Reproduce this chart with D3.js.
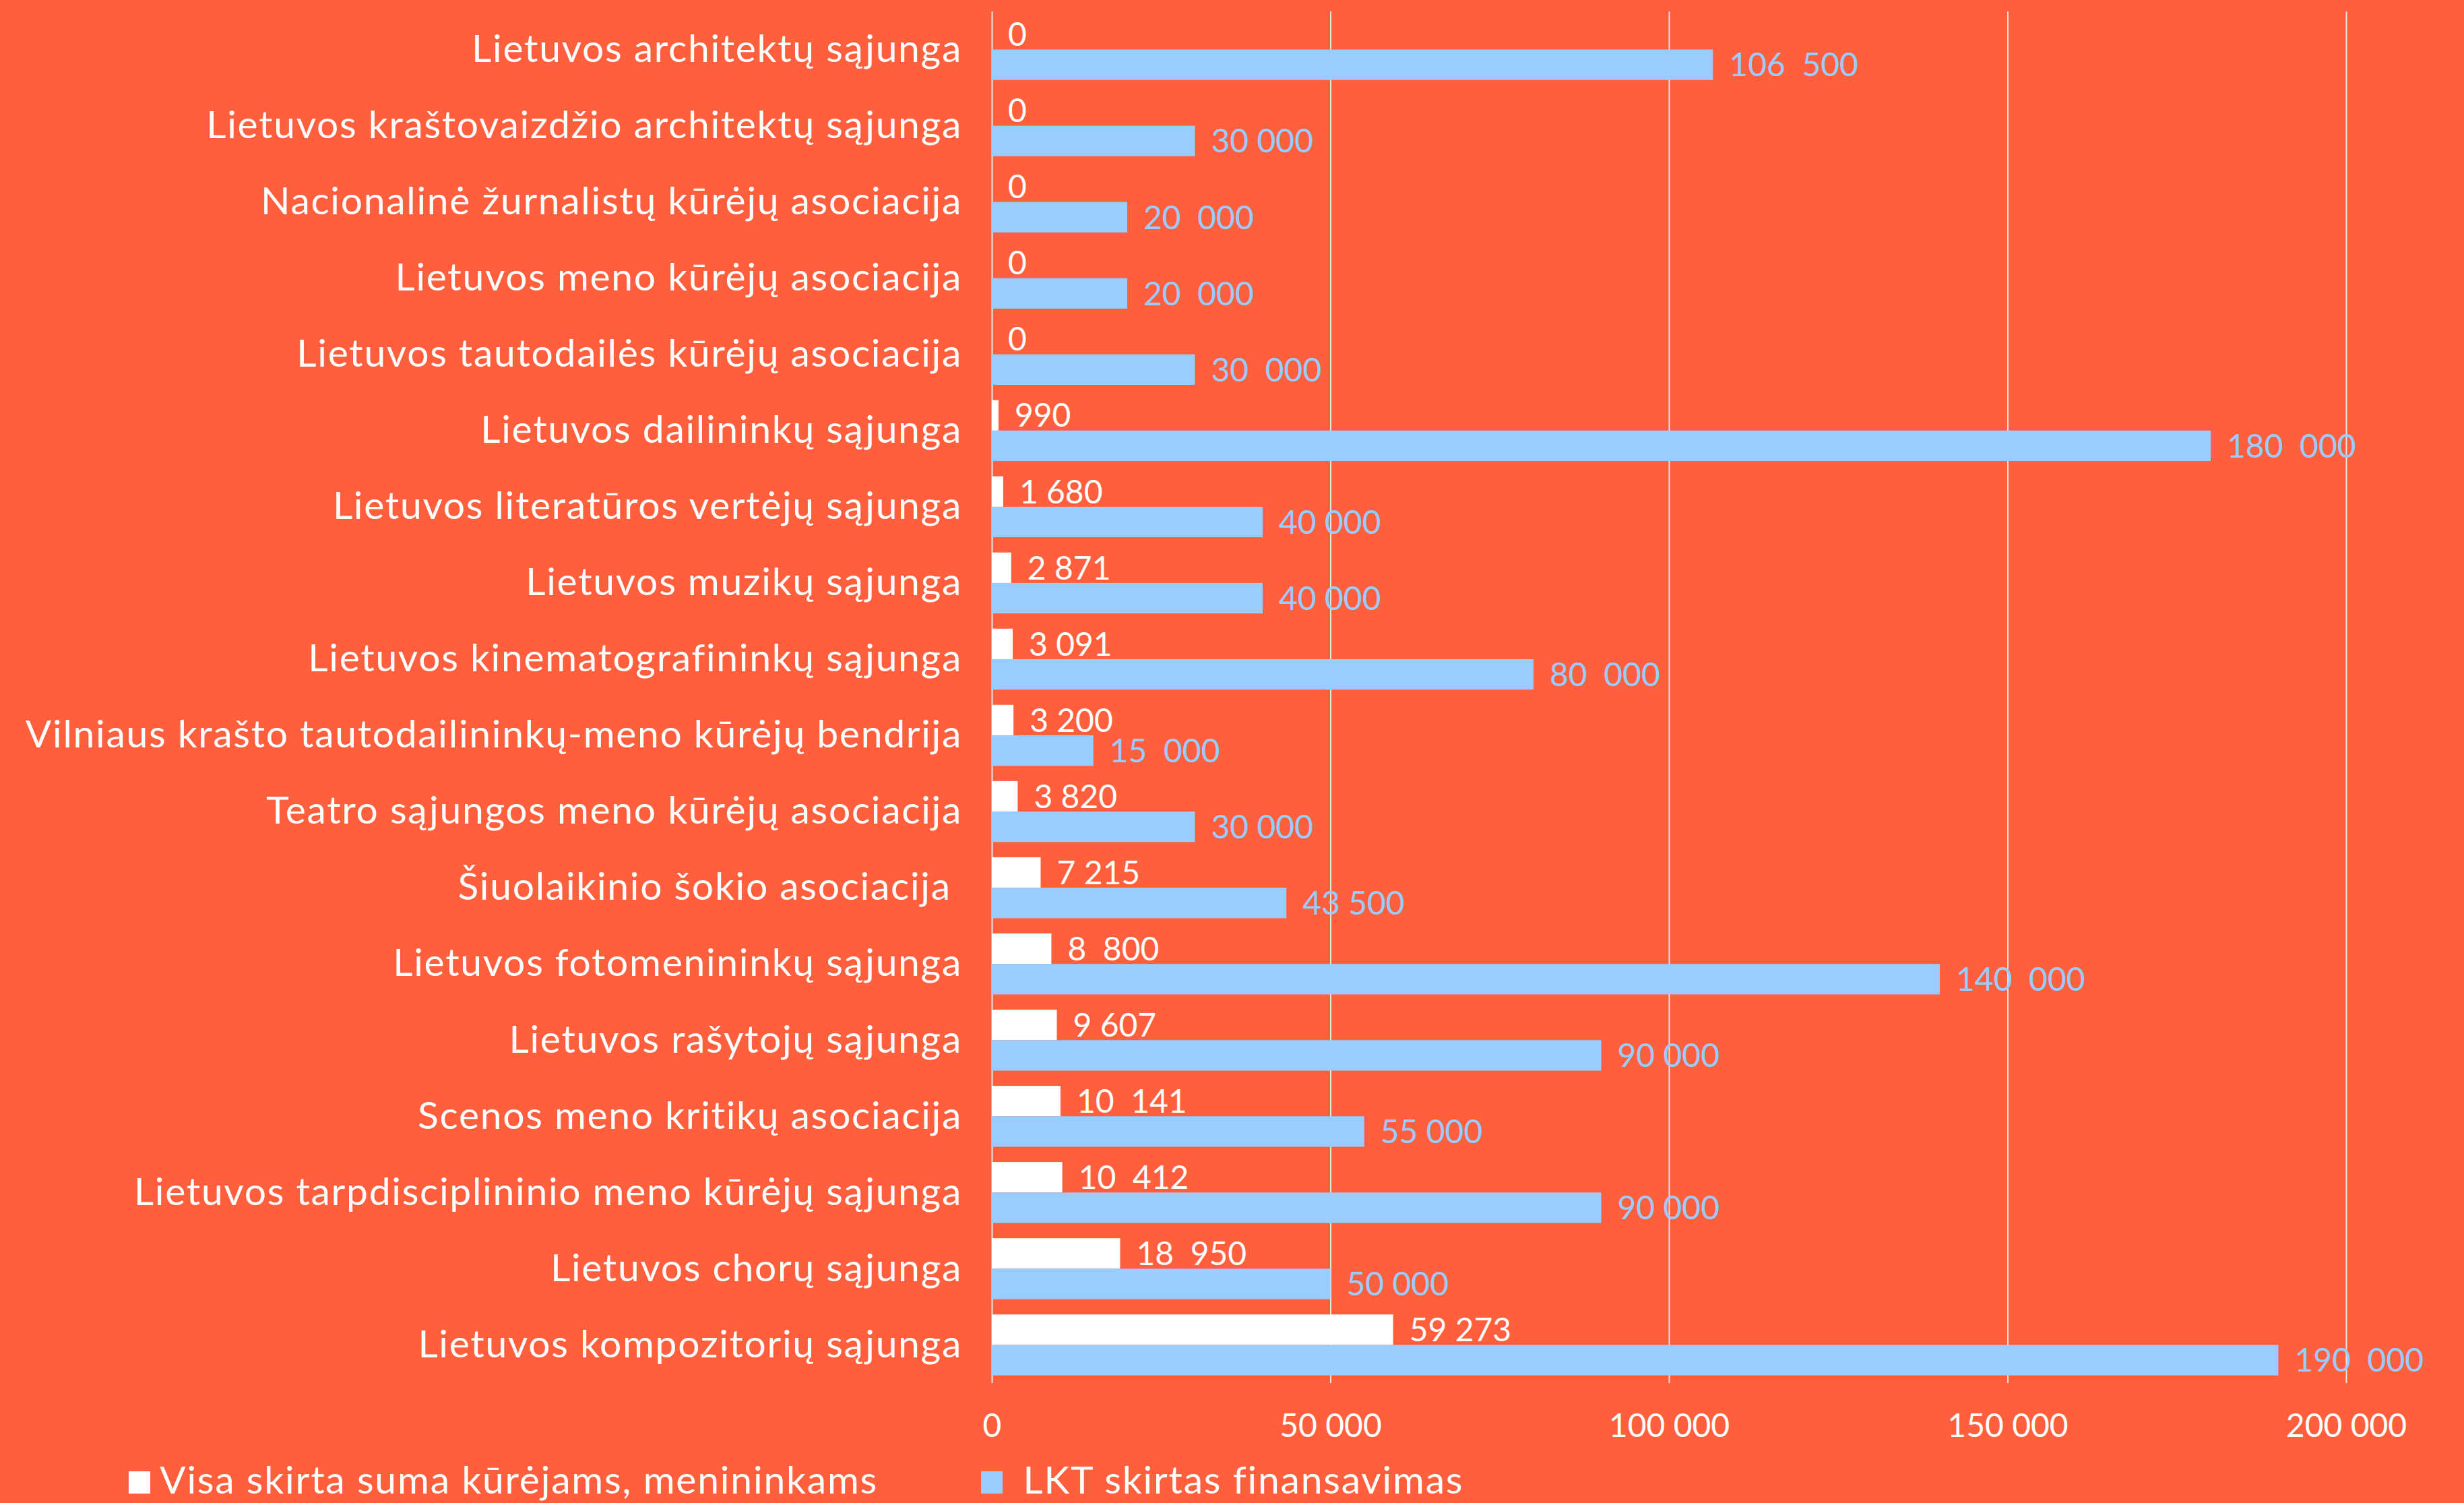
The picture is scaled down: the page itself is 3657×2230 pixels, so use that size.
<!DOCTYPE html>
<html>
<head>
<meta charset="utf-8">
<script src="https://cdn.jsdelivr.net/npm/d3@7"></script>
<style>
  html, body { margin: 0; padding: 0; background: #FF5F3C; }
  svg { display: block; }
  text { font-family: Lato, "Open Sans", sans-serif; fill: #ffffff; white-space: pre; }
</style>
</head>
<body>
<svg id="chart"></svg>
<script>
// Chart data
const categories = [
    'Lietuvos architektų sąjunga',
    'Lietuvos kraštovaizdžio architektų sąjunga',
    'Nacionalinė žurnalistų kūrėjų asociacija',
    'Lietuvos meno kūrėjų asociacija',
    'Lietuvos tautodailės kūrėjų asociacija',
    'Lietuvos dailininkų sąjunga',
    'Lietuvos literatūros vertėjų sąjunga',
    'Lietuvos muzikų sąjunga',
    'Lietuvos kinematografininkų sąjunga',
    'Vilniaus krašto tautodailininkų-meno kūrėjų bendrija',
    'Teatro sąjungos meno kūrėjų asociacija',
    'Šiuolaikinio šokio asociacija ',
    'Lietuvos fotomenininkų sąjunga',
    'Lietuvos rašytojų sąjunga',
    'Scenos meno kritikų asociacija',
    'Lietuvos tarpdisciplininio meno kūrėjų sąjunga',
    'Lietuvos chorų sąjunga',
    'Lietuvos kompozitorių sąjunga'
];
const visaValues = [0, 0, 0, 0, 0, 990, 1680, 2871, 3091, 3200, 3820, 7215, 8800, 9607, 10141, 10412, 18950, 59273];
const lktValues = [106500, 30000, 20000, 20000, 30000, 180000, 40000, 40000, 80000, 15000, 30000, 43500, 140000, 90000, 55000, 90000, 50000, 190000];
const visaLabels = ['0', '0', '0', '0', '0', '990', '1 680', '2 871', '3 091', '3 200', '3 820', '7 215', '8  800', '9 607', '10  141', '10  412', '18  950', '59 273'];
const lktLabels = ['106  500', '30 000', '20  000', '20  000', '30  000', '180  000', '40 000', '40 000', '80  000', '15  000', '30 000', '43 500', '140  000', '90 000', '55 000', '90 000', '50 000', '190  000'];
const xTicks = [0, 50000, 100000, 150000, 200000];
const xTickLabels = ['0', '50 000', '100 000', '150 000', '200 000'];
const seriesNames = ['Visa skirta suma kūrėjams, menininkams', ' LKT skirtas finansavimas'];
const seriesColors = ['#ffffff', '#99CCFF'];

const width = 3657, height = 2230;
const plot = { left: 1472, right: 3482, top: 17, bottom: 2052 };

const svg = d3.select('#chart')
    .attr('width', width)
    .attr('height', height);

svg.append('rect')
    .attr('width', width)
    .attr('height', height)
    .attr('fill', '#FF5F3C');

const x = d3.scaleLinear().domain([0, 200000]).range([plot.left, plot.right]);
const y = d3.scaleBand().domain(categories).range([plot.top, plot.bottom])
    .paddingInner(0.2).paddingOuter(0.1);
const sub = d3.scaleBand().domain([0, 1]).range([0, y.bandwidth()]);

// vertical gridlines
svg.append('g')
    .attr('transform', `translate(0,${plot.top})`)
    .call(d3.axisTop(x).tickValues(xTicks).tickSize(-(plot.bottom - plot.top)).tickFormat(''))
    .call(g => g.select('.domain').remove())
    .call(g => g.selectAll('.tick line').attr('stroke', '#E6E6E6').attr('stroke-width', 2));

// x tick labels
svg.append('g')
    .attr('transform', `translate(0,${plot.bottom})`)
    .call(d3.axisBottom(x).tickValues(xTicks).tickSize(0).tickFormat((d, i) => xTickLabels[i]))
    .call(g => g.select('.domain').remove())
    .call(g => g.selectAll('.tick text')
        .attr('y', 80)
        .attr('dy', 0)
        .attr('fill', '#ffffff')
        .style('font-size', '48px')
        .style('font-family', 'Lato, sans-serif'));

// category labels
svg.append('g')
    .attr('transform', `translate(${plot.left},0)`)
    .call(d3.axisLeft(y).tickSize(0).tickPadding(44))
    .call(g => g.select('.domain').remove())
    .call(g => g.selectAll('.tick text')
        .attr('fill', '#ffffff')
        .style('font-size', '57px')
        .style('letter-spacing', '1.7px')
        .style('font-family', 'Lato, sans-serif'));

const series = [visaValues, lktValues];
const seriesLabels = [visaLabels, lktLabels];

series.forEach((values, s) => {
    const g = svg.append('g');
    g.selectAll('rect')
        .data(categories)
        .join('rect')
        .attr('x', x(0))
        .attr('y', d => y(d) + sub(s))
        .attr('width', (d, i) => x(values[i]) - x(0))
        .attr('height', sub.bandwidth())
        .attr('fill', seriesColors[s]);

    g.selectAll('text')
        .data(categories)
        .join('text')
        .attr('x', (d, i) => x(values[i]) + 24)
        .attr('y', d => y(d) + sub(s) + sub.bandwidth() / 2)
        .attr('dy', '0.36em')
        .style('font-size', '48px')
        .style('fill', seriesColors[s])
        .text((d, i) => seriesLabels[s][i]);
});

// legend
const legendPos = [191, 1456];
const legend = svg.append('g').attr('class', 'legend');
const items = legend.selectAll('.legend-item')
    .data(seriesNames)
    .join('g')
    .attr('class', 'legend-item')
    .attr('transform', (d, i) => `translate(${legendPos[i]},2183)`);

items.append('rect')
    .attr('width', 32)
    .attr('height', 33)
    .attr('fill', (d, i) => seriesColors[i]);

items.append('text')
    .attr('x', 46)
    .attr('y', 33)
    .style('font-size', '57px')
    .style('letter-spacing', '1.8px')
    .text(d => d);
</script>
</body>
</html>
